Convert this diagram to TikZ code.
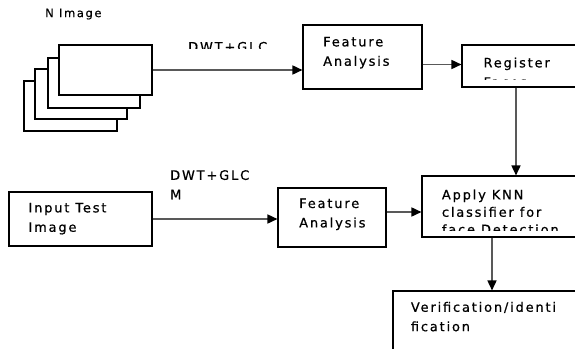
\documentclass[tikz,border=0pt]{standalone}
\usepackage{fontspec}
\newfontfamily\lab[LetterSpace=14,FakeBold=0.6]{DejaVu Sans}
\usetikzlibrary{arrows.meta,calc}
\begin{document}
\begin{tikzpicture}[x=1pt,y=-1pt,
  box/.style={draw=black,line width=1.1pt,fill=white,inner sep=0pt,minimum width=#1},
  txt/.style={font=\lab\fontsize{13}{19.4}\selectfont,align=left,anchor=north west,inner sep=0pt},
  arr/.style={draw=black!65,line width=1.6pt,-{Triangle[length=10pt,width=9pt,color=black]}}]
\useasboundingbox (0,0) rectangle (575,348);
% stacked images
\node[box=93pt,minimum height=50pt] (s4) at (70.5,106) {};
\node[box=92pt,minimum height=50pt] (s3) at (81,94) {};
\node[box=92pt,minimum height=50pt] (s2) at (94,83) {};
\node[box=93pt,minimum height=50pt] (s1) at (105.5,70) {};
\node[txt,font=\lab\fontsize{11.5}{14}\selectfont] (nimg) at (45,8.5) {N Image};
% boxes
\node[box=119pt,minimum height=64pt] (fa1) at (362.5,57) {};
\node[box=118pt,minimum height=42pt] (reg) at (521,66) {};
\node[box=158pt,minimum height=61pt] (knn) at (501,206.5) {};
\node[box=108pt,minimum height=59pt] (fa2) at (332,217.5) {};
\node[box=143pt,minimum height=54pt] (inp) at (80.5,219) {};
\node[box=187pt,minimum height=61pt] (ver) at (486.5,321.5) {};
% texts
\node[txt] (t1) at (323,36.7) {Feature\\Analysis};
\begin{scope}
\clip (reg.north west) rectangle (580,79.4);
\node[txt] (t2) at (483.3,57.3) {Register\\Faces};
\end{scope}
\begin{scope}
\clip (knn.north west) rectangle (580,230.6);
\node[txt,font=\lab\fontsize{13}{17.4}\selectfont] (t3) at (441.7,189.3) {Apply KNN\\classifier for\\face Detection};
\end{scope}
\node[txt] (t4) at (299,198.3) {Feature\\Analysis};
\node[txt] (t5) at (28.3,202.7) {Input Test\\Image};
\node[txt] (t6) at (410.7,301.7) {Verification/identi\\fication};
\begin{scope}
\clip (150,30) rectangle (300,48.3);
\node[txt] (l1) at (188,41.7) {DWT+GLC};
\end{scope}
\node[txt] (l2) at (170,170) {DWT+GLC\\M};
% connectors
\draw[arr] (s1.east) -- (s1.east -| fa1.west);
\draw[arr] (fa1.east |- 0,64.5) coordinate (a1) -- (a1 -| reg.west);
\coordinate (r1) at (516,87);
\draw[arr] (reg.south -| r1) -- (knn.north -| r1);
\draw[arr] (inp.east) -- (inp.east -| fa2.west);
\draw[arr] (fa2.east |- 0,212) coordinate (a2) -- (a2 -| knn.west);
\coordinate (k1) at (492,237);
\draw[arr] (knn.south -| k1) -- (ver.north -| k1);
\end{tikzpicture}
\end{document}
